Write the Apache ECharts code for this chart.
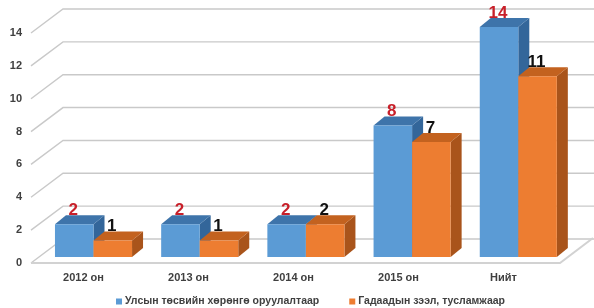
<!DOCTYPE html>
<html>
<head>
<meta charset="UTF-8">
<title></title>
<style>
  html, body { margin: 0; padding: 0; background: #fff; }
  #main { width: 594px; height: 308px; }
</style>
<script src="https://cdn.jsdelivr.net/npm/echarts@6/dist/echarts.min.js"></script>
</head>
<body>
<div id="main"></div>
<script>
var categories = ['2012 он', '2013 он', '2014 он', '2015 он', 'Нийт'];
var stateBudget = [2, 2, 2, 8, 14];
var foreignLoan = [1, 1, 2, 7, 11];
var yTicks = [0, 2, 4, 6, 8, 10, 12, 14];

var nameA = 'Улсын төсвийн хөрөнгө оруулалтаар';
var nameB = 'Гадаадын зээл, тусламжаар';

// depth of the 3d look
var wallDx = 32, wallDy = -24;
var barDx = 11, barDy = -9;

function wallRender(params, api) {
  var cs = params.coordSys;
  var v = api.value(1);
  var y = api.coord([0, v])[1];
  var x0 = cs.x;
  var kids = [{
    type: 'polyline',
    shape: { points: [[x0, y], [x0 + wallDx, y + wallDy], [600, y + wallDy]] },
    style: { stroke: '#c9c9c9', lineWidth: 1.4, fill: null }
  }];
  if (v === 0) {
    var xr = cs.x + cs.width + 4;
    kids.push({
      type: 'polyline',
      shape: { points: [[x0, y], [xr, y], [xr + wallDx + 1, y + wallDy - 1]] },
      style: { stroke: '#d2d2d2', lineWidth: 2, fill: null }
    });
  }
  return { type: 'group', children: kids };
}

function barRender(slot, front, topC, sideC, labelColor) {
  return function (params, api) {
    var i = api.value(0), v = api.value(1);
    var band = api.size([1, 0])[0];
    var w = band * 0.367;
    var off = 10 + i * 1.2;
    var c = api.coord([i, v]);
    var c0 = api.coord([i, 0]);
    var left = c[0] + off - w + slot * w;
    var top = c[1] - 6, bottom = c0[1] - 6;
    return {
      type: 'group',
      children: [
        {
          type: 'polygon',
          shape: { points: [[left + w, top], [left + w + barDx, top + barDy], [left + w + barDx, bottom + barDy], [left + w, bottom]] },
          style: { fill: sideC }
        },
        {
          type: 'polygon',
          shape: { points: [[left, top], [left + barDx, top + barDy], [left + w + barDx, top + barDy], [left + w, top]] },
          style: { fill: topC }
        },
        {
          type: 'rect',
          shape: { x: left, y: top, width: w, height: bottom - top },
          style: { fill: front }
        },
        {
          type: 'text',
          x: left + w / 2 - 1,
          y: top + barDy - 5,
          style: {
            text: String(v),
            fill: labelColor,
            font: 'bold 17px "Liberation Sans", Arial, sans-serif',
            align: 'center',
            verticalAlign: 'middle'
          }
        }
      ]
    };
  };
}

var myChart = echarts.init(document.getElementById('main'));
var option = {
  backgroundColor: '#fff',
  animation: false,
  grid: { left: 31, right: 38, top: 33, bottom: 45 },
  legend: {
    data: [nameA, nameB],
    left: 111,
    top: 291,
    itemGap: 30,
    itemWidth: 6,
    itemHeight: 6,
    icon: 'rect',
    textStyle: { color: '#404040', fontSize: 10.5, fontWeight: 'bold', fontFamily: '"Liberation Sans", Arial, sans-serif', padding: [0, 0, 0, -2] }
  },
  xAxis: {
    type: 'category',
    data: categories,
    axisLine: { show: false },
    axisTick: { show: false },
    axisLabel: { margin: 9, color: '#404040', fontSize: 11, fontWeight: 'bold', fontFamily: '"Liberation Sans", Arial, sans-serif' }
  },
  yAxis: {
    type: 'value',
    min: 0,
    max: 14,
    interval: 2,
    splitLine: { show: false },
    axisLine: { show: false },
    axisLabel: { margin: 9, color: '#404040', fontSize: 11, fontWeight: 'bold', fontFamily: '"Liberation Sans", Arial, sans-serif' }
  },
  series: [
    {
      type: 'custom',
      z: 1,
      silent: true,
      renderItem: wallRender,
      encode: { x: 0, y: 1 },
      data: yTicks.map(function (v) { return [0, v]; })
    },
    {
      type: 'custom',
      name: nameA,
      z: 3,
      itemStyle: { color: '#5b9bd5' },
      renderItem: barRender(0, '#5b9bd5', '#3e74aa', '#33669a', '#c8202a'),
      encode: { x: 0, y: 1 },
      data: stateBudget.map(function (v, i) { return [i, v]; })
    },
    {
      type: 'custom',
      name: nameB,
      z: 4,
      itemStyle: { color: '#ed7d31' },
      renderItem: barRender(1, '#ed7d31', '#c3621f', '#a9541b', '#111'),
      encode: { x: 0, y: 1 },
      data: foreignLoan.map(function (v, i) { return [i, v]; })
    }
  ]
};
myChart.setOption(option);
</script>
</body>
</html>
